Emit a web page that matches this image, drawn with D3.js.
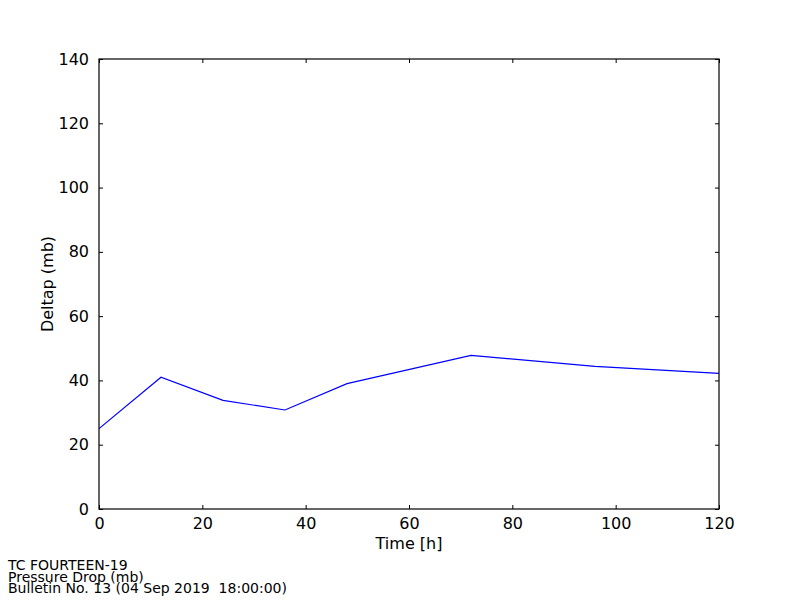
<!DOCTYPE html>
<html>
<head>
<meta charset="utf-8">
<script src="https://cdn.jsdelivr.net/npm/d3@7"></script>
<style>
  body { margin: 0; background: #fff; }
  text { font-family: "DejaVu Sans", sans-serif; }
</style>
</head>
<body>
<div class="grafico"></div>
<script>
// Horas de previsão e queda de pressão (mb)
var horas = [0, 12, 24, 36, 48, 72, 96, 120];
var deltap = [25, 41, 33.8, 30.8, 39, 47.8, 44.4, 42.2];
var xTicks = [0, 20, 40, 60, 80, 100, 120];
var yTicks = [0, 20, 40, 60, 80, 100, 120, 140];
var rodape = ["TC FOURTEEN-19", "Pressure Drop (mb)", "Bulletin No. 13 (04 Sep 2019  18:00:00)"];

var width = 800;
var height = 600;
var margem = { left: 99, top: 59, right: 81, bottom: 91 };
var w = width - margem.left - margem.right;
var h = height - margem.top - margem.bottom;

var svg = d3.select(".grafico")
  .append("svg")
  .attr("width", width)
  .attr("height", height);

var canvas = svg.append("g")
  .attr("transform", "translate(" + margem.left + "," + margem.top + ")");

var xScale = d3.scaleLinear().domain([0, 120]).range([0, w]);
var yScale = d3.scaleLinear().domain([0, 140]).range([h, 0]);

// eixos com ticks para dentro, como no matplotlib clássico
function estilo(g) {
  g.select(".domain").remove();
  g.selectAll("line").attr("stroke", "#000");
  g.selectAll("text").attr("fill", "#000").style("font-size", "16px");
}

canvas.append("g")
  .attr("transform", "translate(0," + h + ")")
  .call(d3.axisBottom(xScale).tickValues(xTicks).tickSize(-4).tickPadding(9))
  .call(estilo);
canvas.append("g")
  .call(d3.axisTop(xScale).tickValues(xTicks).tickSize(-4).tickFormat(""))
  .call(estilo);
canvas.append("g")
  .call(d3.axisLeft(yScale).tickValues(yTicks).tickSize(-4).tickPadding(10))
  .call(estilo);
canvas.append("g")
  .attr("transform", "translate(" + w + ",0)")
  .call(d3.axisRight(yScale).tickValues(yTicks).tickSize(-4).tickFormat(""))
  .call(estilo);

var linha = d3.line()
  .x(function(d, i) { return xScale(horas[i]); })
  .y(function(d) { return yScale(d); });

canvas.append("path")
  .datum(deltap)
  .attr("d", linha)
  .attr("fill", "none")
  .attr("stroke", "#0000ff")
  .attr("stroke-width", 1.2);

canvas.append("rect")
  .attr("x", 0).attr("y", 0)
  .attr("width", w).attr("height", h)
  .attr("fill", "none")
  .attr("stroke", "#000")
  .attr("stroke-width", 1.2);

// rótulos dos eixos
canvas.append("text")
  .attr("x", w / 2)
  .attr("y", h + 40)
  .attr("text-anchor", "middle")
  .style("font-size", "16px")
  .text("Time [h]");

canvas.append("text")
  .attr("transform", "translate(-46," + (h / 2) + ") rotate(-90)")
  .attr("text-anchor", "middle")
  .style("font-size", "16px")
  .text("Deltap (mb)");

// rodapé com três linhas bem juntas
svg.selectAll(".rodape")
  .data(rodape)
  .enter()
  .append("text")
  .attr("class", "rodape")
  .attr("x", 8)
  .attr("y", function(d, i) { return 570 + i * 11.5; })
  .style("font-size", "14px")
  .style("white-space", "pre")
  .text(function(d) { return d; });
</script>
</body>
</html>
